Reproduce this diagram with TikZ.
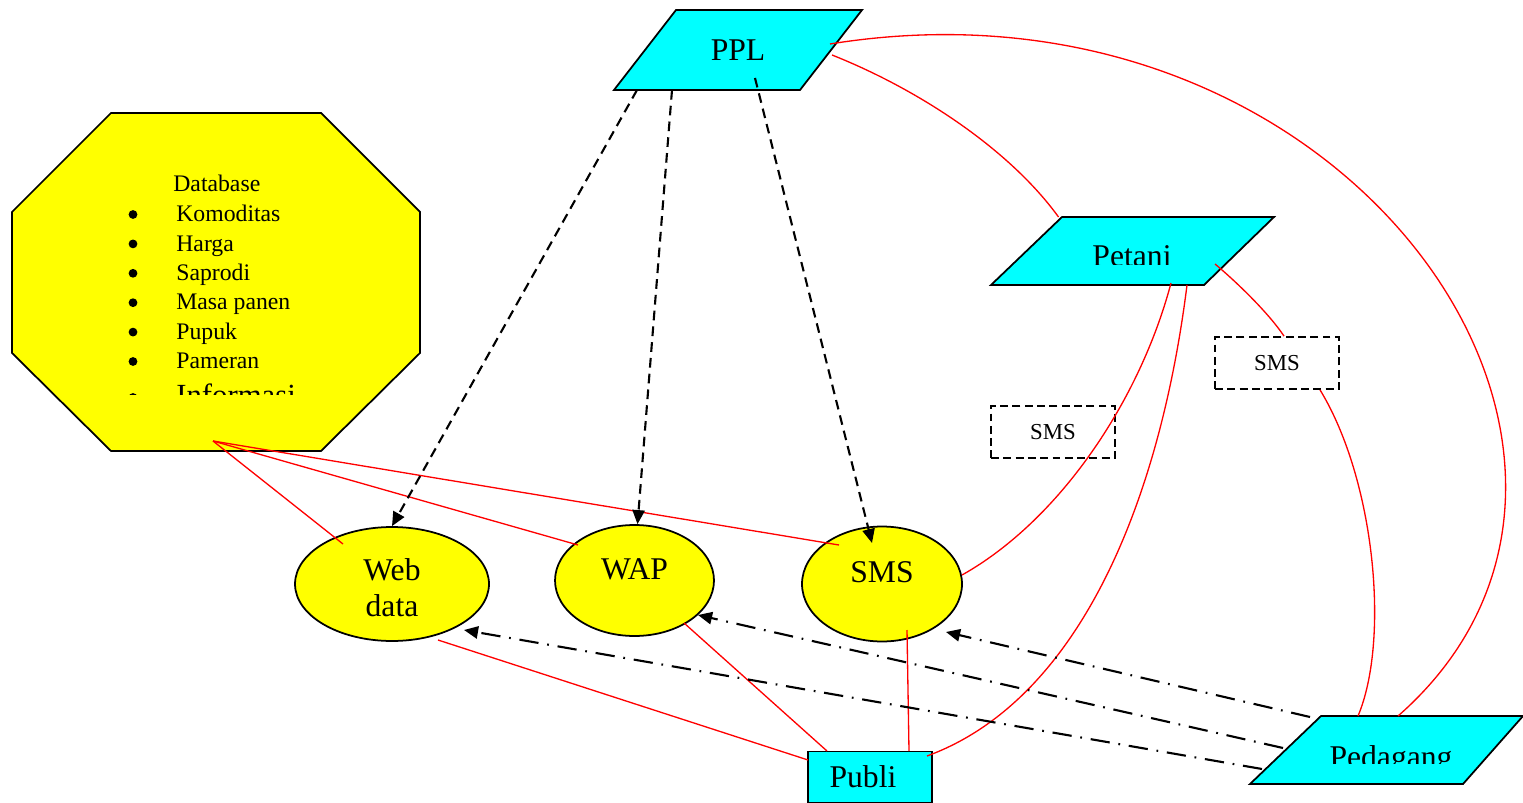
\documentclass[tikz,border=0pt]{standalone}
\usepackage{fontspec}
\setmainfont{Liberation Serif}
\usetikzlibrary{shapes.geometric, arrows.meta, calc}
\definecolor{aqua}{RGB}{0,255,255}
\definecolor{lemon}{RGB}{255,255,0}

\begin{document}
\begin{tikzpicture}[x=0.02cm, y=-0.02cm, font=\fontsize{18}{20.5}\selectfont,
    para/.style={draw, fill=aqua, line width=1pt},
    oval/.style={ellipse, draw, fill=lemon, line width=1pt, inner sep=0pt, align=center},
    smsbox/.style={draw, dash pattern=on 4.5pt off 2.5pt, line width=1pt, minimum width=2.48cm, minimum height=1.04cm, font=\fontsize{13}{15}\selectfont},
    dbtxt/.style={inner sep=0pt, font=\fontsize{13.5}{16}\selectfont},
    wire/.style={red, line width=0.75pt},
    feed/.style={line width=1.2pt, dash pattern=on 5.5pt off 3.5pt, -{Triangle[length=8pt,width=7pt]}},
    reply/.style={line width=1.2pt, dash pattern=on 11pt off 5pt on 1pt off 5pt, -{Triangle[length=8pt,width=7pt]}}]
    \useasboundingbox (0,0) rectangle (1523,803);

    % database octagon
    \draw[fill=lemon, line width=1pt] (111,113) -- (321,113) -- (420,212) -- (420,353) -- (321,451) -- (111,451) -- (12,353) -- (12,212) -- cycle;
    \coordinate (dbfoot) at (213,441);
    \node[dbtxt, anchor=base west] (dbhead) at (173,192) {Database};
    \foreach \lbl [count=\i] in {Komoditas, Harga, Saprodi, Masa panen, Pupuk, Pameran} {
        \fill (133,{214.5+29.4*(\i-1)}) circle[radius=2.5pt];
        \node[dbtxt, anchor=base west] (it\i) at (176,{221.7+29.4*(\i-1)}) {\lbl};
    }
    \begin{scope}
        \clip (12,113) rectangle (420,394);
        \fill (133,397.5) circle[radius=2.5pt];
        \node[dbtxt, anchor=base west, font=\fontsize{17.5}{20}\selectfont] (it7) at (176,405) {Informasi};
    \end{scope}

    % actors
    \draw[para] (614,90) -- (676,10) -- (862,10) -- (800,90) -- cycle;
    \node (ppl) at (738,50) {PPL};
    \draw[para] (991,285) -- (1062,217) -- (1274,217) -- (1204,285) -- cycle;
    \coordinate (pet) at (1132.5,251);
    \draw[para] (1250,784) -- (1321,716) -- (1523,716) -- (1463,784) -- cycle;
    \coordinate (ped) at (1386.5,750);
    \node[draw, fill=aqua, line width=1pt, minimum width=2.48cm, minimum height=1.02cm] (publi) at (870,777) {Publi\hspace*{8pt}};
    \begin{scope}
        \clip (991,200) rectangle (1280,265);
        \node[anchor=base] (pettxt) at (1132,267) {Petani};
    \end{scope}
    \begin{scope}
        \clip (1250,700) rectangle (1523,763);
        \node[anchor=base] (pedtxt) at (1391,767) {Pedagang};
    \end{scope}

    % media
    \node[oval, minimum width=3.88cm, minimum height=2.28cm, text height=37.5pt] (web) at (392,584) {Web\\data};
    \node[oval, minimum width=3.18cm, minimum height=2.22cm, text depth=12.5pt] (wap) at (634.5,580.5) {WAP};
    \node[oval, minimum width=3.2cm, minimum height=2.3cm, text depth=13.5pt] (sms) at (882,584) {SMS};

    % sms labels
    \node[smsbox] (sms1) at (1053,432) {SMS};
    \node[smsbox] (sms2) at (1277,363) {SMS};

    % database links
    \draw[wire] (dbfoot) -- ($(web.center)+(-49,-40)$);
    \draw[wire] (dbfoot) -- ($(wap.center)+(-56.5,-35.5)$);
    \draw[wire] (dbfoot) -- ($(sms.center)+(-43,-39)$);

    % PPL feeds
    \draw[feed] ($(ppl.center)+(-101,40)$) -- (web.north);
    \draw[feed] ($(ppl.center)+(-66,40)$) -- ($(wap.north)+(3,0)$);
    \draw[feed] ($(ppl.center)+(17,28)$) -- ($(sms.center)+(-10,-41)$);

    % red links
    \draw[wire] ($(ppl.center)+(92,-6)$) .. controls (1350,-40) and (1690,460) .. ($(ped)+(11.5,-34)$);
    \draw[wire] ($(ppl.center)+(94,5)$) .. controls (920,90) and (1010,150) .. ($(pet)+(-74,-34)$);
    \draw[wire] ($(pet)+(38.5,32)$) .. controls (1140,400) and (1060,520) .. ($(sms.center)+(80,-9)$);
    \draw[wire] ($(pet)+(54.5,34)$) .. controls (1160,500) and (1080,700) .. ($(publi.center)+(57,-21)$);
    \draw[wire] ($(pet)+(82.5,13)$) .. controls (1240,285) and (1270,315) .. ($(sms2.north)+(7,0)$);
    \draw[wire] ($(sms2.south)+(43,0)$) .. controls (1375,480) and (1390,640) .. ($(ped)+(-28.5,-34)$);
    \draw[wire] ($(web.center)+(46,56)$) -- ($(publi.center)+(-62,-17)$);
    \draw[wire] ($(wap.center)+(49.5,42.5)$) -- ($(publi.center)+(-43,-26)$);
    \draw[wire] ($(sms.center)+(25,46)$) -- ($(publi.center)+(39,-26)$);

    % pedagang replies
    \draw[reply] ($(ped)+(-76.5,-33)$) -- ($(sms.center)+(64,48)$);
    \draw[reply] ($(ped)+(-103.5,-2)$) -- ($(wap.center)+(63.5,34.5)$);
    \draw[reply] ($(ped)+(-124.5,19)$) -- ($(web.center)+(72,46)$);
\end{tikzpicture}
\end{document}
